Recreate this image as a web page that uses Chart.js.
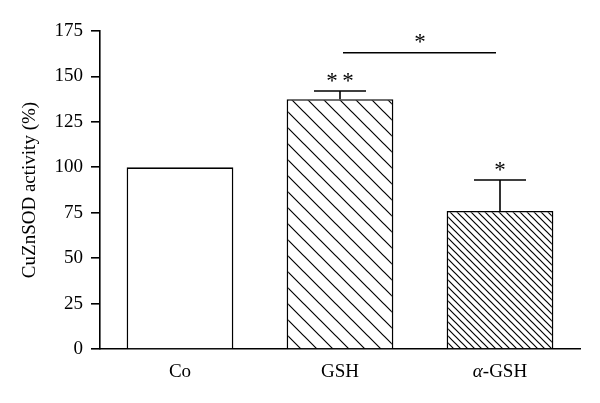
<!DOCTYPE html>
<html>
<head>
<meta charset="utf-8">
<script src="https://cdn.jsdelivr.net/npm/chart.js@4"></script>
<style>
  html, body { margin: 0; padding: 0; background: #fff; }
  #wrap { width: 600px; height: 403px; position: relative; }
</style>
</head>
<body>
<div id="wrap"><canvas id="chart"></canvas></div>
<script>
(function () {
  "use strict";

  const categories = ["Co", "GSH", "α-GSH"];
  const activity = [100, 137.5, 76];
  const errors = [0, 4.5, 17];
  const barStars = ["", "**", "*"];
  const yTicks = [0, 25, 50, 75, 100, 125, 150, 175];
  // bracket between GSH and α-GSH
  const bracket = { from: 1, to: 2, value: 163, label: "*" };

  const FONT = "'Liberation Serif', 'DejaVu Serif', serif";

  function hatch(spacing) {
    const c = document.createElement("canvas");
    c.width = spacing;
    c.height = spacing;
    const g = c.getContext("2d");
    g.fillStyle = "#fff";
    g.fillRect(0, 0, spacing, spacing);
    g.strokeStyle = "#000";
    g.lineWidth = 1.2;
    g.beginPath();
    g.moveTo(-1, -1);
    g.lineTo(spacing + 1, spacing + 1);
    g.moveTo(-1, spacing - 1);
    g.lineTo(1, spacing + 1);
    g.moveTo(spacing - 1, -1);
    g.lineTo(spacing + 1, 1);
    g.stroke();
    return g.createPattern(c, "repeat");
  }

  const fills = ["#ffffff", hatch(16), hatch(7)];

  // draws a category label, with a leading Greek letter set in italic
  function drawLabel(ctx, text, cx, cy) {
    const m = /^([α-ω])(.*)$/.exec(text);
    ctx.textBaseline = "middle";
    if (!m) {
      ctx.font = "19px " + FONT;
      ctx.textAlign = "center";
      ctx.fillText(text, cx, cy);
      return;
    }
    ctx.font = "italic 19px " + FONT;
    const w1 = ctx.measureText(m[1]).width;
    ctx.font = "19px " + FONT;
    const w2 = ctx.measureText(m[2]).width;
    const x0 = cx - (w1 + w2) / 2;
    ctx.textAlign = "left";
    ctx.font = "italic 19px " + FONT;
    ctx.fillText(m[1], x0, cy);
    ctx.font = "19px " + FONT;
    ctx.fillText(m[2], x0 + w1, cy);
  }

  const annotations = {
    id: "annotations",
    afterDatasetsDraw(chart) {
      const ctx = chart.ctx;
      const x = chart.scales.x;
      const y = chart.scales.y;
      ctx.save();
      ctx.strokeStyle = "#000";
      ctx.fillStyle = "#000";
      ctx.lineWidth = 1.6;
      activity.forEach((v, i) => {
        const cx = x.getPixelForValue(i);
        const top = y.getPixelForValue(v + errors[i]);
        if (errors[i] > 0) {
          ctx.beginPath();
          ctx.moveTo(cx, y.getPixelForValue(v));
          ctx.lineTo(cx, top);
          ctx.moveTo(cx - 26, top);
          ctx.lineTo(cx + 26, top);
          ctx.stroke();
        }
        if (barStars[i]) {
          ctx.font = "23px " + FONT;
          ctx.textAlign = "center";
          ctx.textBaseline = "top";
          ctx.fillText(barStars[i].split("").join("\u2009"), cx, top - 21);
        }
        drawLabel(ctx, categories[i], cx, y.bottom + 23);
      });
      const by = y.getPixelForValue(bracket.value);
      ctx.beginPath();
      ctx.moveTo(x.getPixelForValue(bracket.from) + 3, by);
      ctx.lineTo(x.getPixelForValue(bracket.to) - 4, by);
      ctx.stroke();
      ctx.font = "23px " + FONT;
      ctx.textAlign = "center";
      ctx.textBaseline = "top";
      ctx.fillText(bracket.label, (x.getPixelForValue(bracket.from) + x.getPixelForValue(bracket.to)) / 2, by - 21);
      ctx.restore();
    },
  };

  new Chart(document.getElementById("chart"), {
    type: "bar",
    data: {
      labels: categories,
      datasets: [{
        data: activity,
        backgroundColor: fills,
        borderColor: "#000",
        borderWidth: 1.6,
        categoryPercentage: 1,
        barPercentage: 0.667,
      }],
    },
    options: {
      responsive: true,
      maintainAspectRatio: false,
      animation: false,
      layout: { padding: { top: 31, right: 20, bottom: 0, left: 0 } },
      plugins: { legend: { display: false }, tooltip: { enabled: false } },
      scales: {
        x: {
          grid: { display: false, drawTicks: false },
          border: { color: "#000", width: 1.6 },
          ticks: { display: false },
          afterFit(s) { s.height = 54; },
        },
        y: {
          min: 0,
          max: 175,
          afterBuildTicks(s) { s.ticks = yTicks.map((v) => ({ value: v })); },
          grid: { drawOnChartArea: false, tickLength: 9, color: "#000", lineWidth: 1.6 },
          border: { color: "#000", width: 1.6 },
          ticks: { color: "#000", padding: 8, font: { family: FONT, size: 19 } },
          title: { display: true, text: "CuZnSOD activity (%)", color: "#000", padding: { top: 19, bottom: 0 }, font: { family: FONT, size: 19 } },
          afterFit(s) { s.width = 100; },
        },
      },
    },
    plugins: [annotations],
  });
})();
</script>
</body>
</html>
